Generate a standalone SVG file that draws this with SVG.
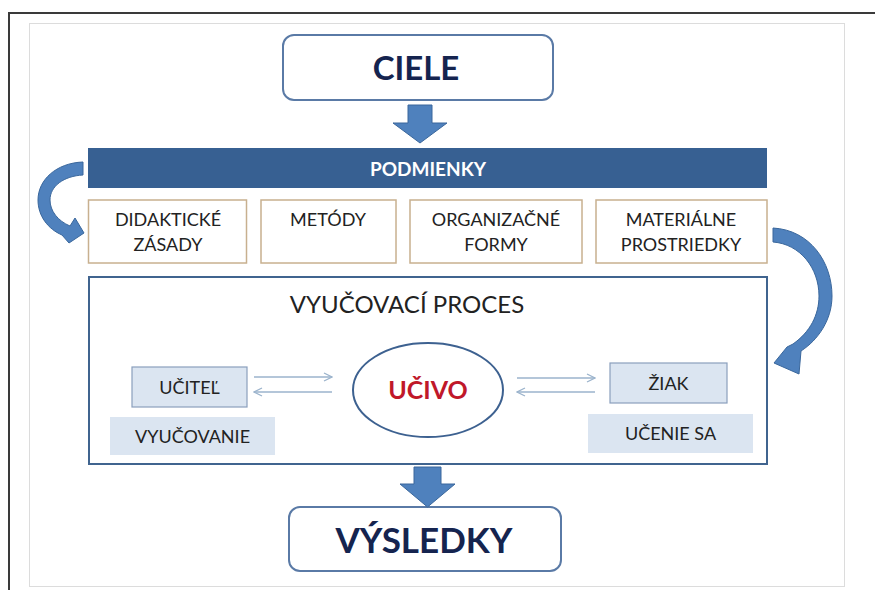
<svg xmlns="http://www.w3.org/2000/svg" width="875" height="590" viewBox="0 0 875 590">
  <style>
    text { font-family: Lato, "Open Sans", "Liberation Sans", sans-serif; text-anchor: middle; }
    .lbl { font-size: 18px; fill: #222222; }
    .cond { fill: #ffffff; stroke: #c8b08f; stroke-width: 1.5; }
    .pill { fill: #ffffff; stroke: #5a7aa6; stroke-width: 2; }
    .head { font-weight: bold; fill: #15244f; }
    .blk { fill: #4f81bd; stroke: #3a679c; stroke-width: 1; }
    .role { fill: #dbe5f1; stroke: #8a9fbd; stroke-width: 1.2; }
    .act { fill: #dbe5f1; }
    .thin { stroke: #9bb3cc; stroke-width: 1.3; fill: none; }
  </style>
  <defs>
    <marker id="tip" viewBox="0 0 10 10" refX="9" refY="5" markerWidth="10" markerHeight="10" markerUnits="userSpaceOnUse" orient="auto">
      <path d="M1,1 L9,5 L1,9" fill="none" stroke="#9bb3cc" stroke-width="1.3"/>
    </marker>
  </defs>

  <rect width="875" height="590" fill="#ffffff"/>
  <!-- page frame -->
  <path d="M9,590 L9,13 L875,13" fill="none" stroke="#3a3a3a" stroke-width="2"/>
  <rect x="29.5" y="23.5" width="815" height="563" fill="none" stroke="#dcdcdc" stroke-width="1"/>

  <g id="ciele">
    <rect class="pill" x="283" y="35" width="270" height="65" rx="11"/>
    <text class="head" x="416" y="80" font-size="33">CIELE</text>
  </g>

  <g id="podmienky">
    <rect x="88" y="148" width="679" height="40" fill="#376092"/>
    <text x="428" y="176" font-size="19" font-weight="bold" fill="#ffffff">PODMIENKY</text>
  </g>

  <g id="didakticke-zasady">
    <rect class="cond" x="88.5" y="200" width="158" height="63"/>
    <text class="lbl" x="168" y="226">DIDAKTICKÉ</text>
    <text class="lbl" x="168" y="251">ZÁSADY</text>
  </g>
  <g id="metody">
    <rect class="cond" x="261" y="200" width="135" height="63"/>
    <text class="lbl" x="328" y="226">METÓDY</text>
  </g>
  <g id="organizacne-formy">
    <rect class="cond" x="410" y="200" width="172" height="63"/>
    <text class="lbl" x="496" y="226">ORGANIZAČNÉ</text>
    <text class="lbl" x="496" y="251">FORMY</text>
  </g>
  <g id="materialne-prostriedky">
    <rect class="cond" x="596" y="200" width="171" height="63"/>
    <text class="lbl" x="681" y="226">MATERIÁLNE</text>
    <text class="lbl" x="681" y="251">PROSTRIEDKY</text>
  </g>

  <g id="vyucovaci-proces">
    <rect x="89" y="277" width="678" height="187" fill="#ffffff" stroke="#40648f" stroke-width="2"/>
    <text x="407" y="313" font-size="24" fill="#222222">VYUČOVACÍ PROCES</text>
  </g>

  <g id="ucitel">
    <rect class="role" x="132" y="367" width="115" height="40"/>
    <text class="lbl" x="189.5" y="394">UČITEĽ</text>
  </g>
  <g id="vyucovanie">
    <rect class="act" x="110" y="417" width="165" height="38"/>
    <text class="lbl" x="192.5" y="443">VYUČOVANIE</text>
  </g>
  <g id="ucivo">
    <ellipse cx="428" cy="390" rx="75" ry="47" fill="#ffffff" stroke="#3d6190" stroke-width="2"/>
    <text x="428" y="399" font-size="25" font-weight="bold" fill="#c0182a">UČIVO</text>
  </g>
  <g id="ziak">
    <rect class="role" x="610" y="363" width="117" height="40"/>
    <text class="lbl" x="668.5" y="390">ŽIAK</text>
  </g>
  <g id="ucenie-sa">
    <rect class="act" x="588" y="414" width="165" height="39"/>
    <text class="lbl" x="670.5" y="440">UČENIE SA</text>
  </g>

  <g id="vysledky">
    <rect class="pill" x="289" y="507" width="272" height="64" rx="11"/>
    <text class="head" x="424" y="553" font-size="35">VÝSLEDKY</text>
  </g>

  <g id="connectors">
    <!-- block arrows -->
    <path class="blk" d="M408,105 L432,105 L432,123 L447,123 L420,143 L393,123 L408,123 Z"/>
    <path class="blk" d="M414,467 L441,467 L441,484 L455,484 L427.5,507 L400,484 L414,484 Z"/>
    <!-- curved arrows -->
    <path class="blk" d="M83,162 C56,163 38,180 38,200 C38,216 48,229 62,235 L69,243 L84,233 L75,218 L70,226 C58,221 50,211 50,200 C50,186 64,176 83,175 Z"/>
    <path class="blk" d="M773,228 C810,230 832,262 832,296 C832,320 818,340 801,351 L799,374 L774,363 L787,347 L793,344 C810,332 819,315 819,296 C819,268 800,244 773,242 Z"/>
    <!-- exchange arrows -->
    <line class="thin" x1="254" y1="377" x2="332" y2="377" marker-end="url(#tip)"/>
    <line class="thin" x1="332" y1="392" x2="254" y2="392" marker-end="url(#tip)"/>
    <line class="thin" x1="517" y1="378" x2="595" y2="378" marker-end="url(#tip)"/>
    <line class="thin" x1="595" y1="392" x2="517" y2="392" marker-end="url(#tip)"/>
  </g>
</svg>
